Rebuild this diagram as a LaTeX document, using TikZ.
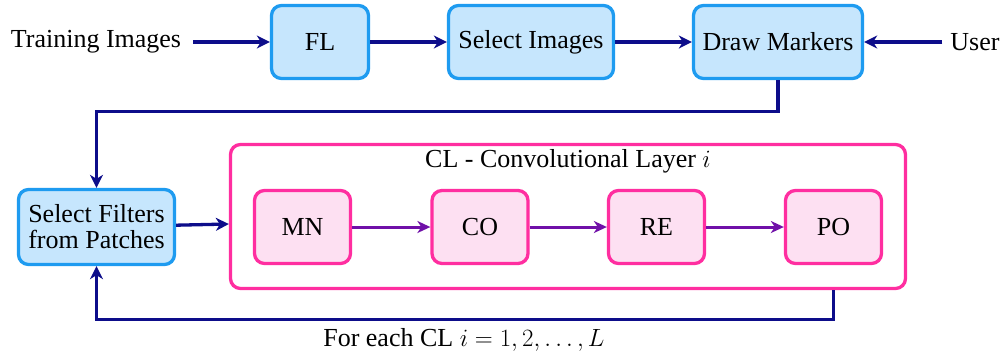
\documentclass[tikz,border=0pt]{standalone}
\usepackage{fontspec}
\setmainfont{Liberation Serif}
\usetikzlibrary{arrows.meta}
\definecolor{bluebd}{HTML}{1E9BF0}
\definecolor{bluefl}{HTML}{C6E6FD}
\definecolor{pinkbd}{HTML}{FF2EA0}
\definecolor{pinkfl}{HTML}{FDE0F2}
\definecolor{navyln}{HTML}{0D0D8A}
\definecolor{purpln}{HTML}{7010A8}
\tikzset{
  bluebox/.style={draw=bluebd, fill=bluefl, line width=3.3pt, rounded corners=10pt, inner sep=0pt, minimum height=73pt, align=center},
  pinkbox/.style={draw=pinkbd, fill=pinkfl, line width=3.3pt, rounded corners=10pt, inner sep=0pt, minimum width=96pt, minimum height=73pt},
  bigbox/.style={draw=pinkbd, fill=white, line width=3.3pt, rounded corners=10pt, inner sep=0pt, minimum width=675pt, minimum height=144pt},
  navyarrow/.style={draw=navyln, line width=3.3pt, -{Stealth[length=13pt,width=13pt,inset=4pt]}},
  purparrow/.style={draw=purpln, line width=3pt, -{Stealth[length=13pt,width=12pt,inset=4pt]}},
  lbl/.style={inner sep=0pt}
}
\begin{document}
\begin{tikzpicture}[x=1pt,y=-1pt,font=\fontsize{26}{30}\selectfont]
\useasboundingbox (0,0) rectangle (1006,360);
\node[lbl] (ti) at (96,42) {Training Images};
\node[bluebox, minimum width=97pt] (fl) at (320,42) {FL};
\node[bluebox, minimum width=165pt] (si) at (531,42) {Select Images};
\node[bluebox, minimum width=169pt] (dm) at (778,42) {Draw Markers};
\node[lbl] (user) at (975,42) {User};
\node[bluebox, minimum width=156pt, minimum height=75pt] (sf) at (96.5,227) {Select Filters\\[-4pt]from Patches};
\node[bigbox] (cl) at (568,216.5) {};
\node[lbl] (title) at (568,161) {CL - Convolutional Layer $i$};
\node[pinkbox] (mn) at (302.5,227) {MN};
\node[pinkbox] (co) at (480,227) {CO};
\node[pinkbox] (re) at (656.5,227) {RE};
\node[pinkbox] (po) at (833.5,227) {PO};
\node[lbl] (foreach) at (464,340) {For each CL $i=1,2,\ldots,L$};

\draw[navyarrow, shorten <=12pt] (ti.east) -- (fl.west);
\draw[navyarrow] (fl.east) -- (si.west);
\draw[navyarrow] (si.east) -- (dm.west);
\draw[navyarrow, shorten <=8pt] (user.west) -- (dm.east);
\draw[navyarrow] (dm.south) -- ++(0,31) -| (sf.north);
\draw[navyarrow] (sf) -- (cl);
\draw[purparrow] (mn) -- (co);
\draw[purparrow] (co) -- (re);
\draw[purparrow] (re) -- (po);
\draw[navyarrow] (po |- cl.south) -- ++(0,29) -| (sf.south);
\end{tikzpicture}
\end{document}
